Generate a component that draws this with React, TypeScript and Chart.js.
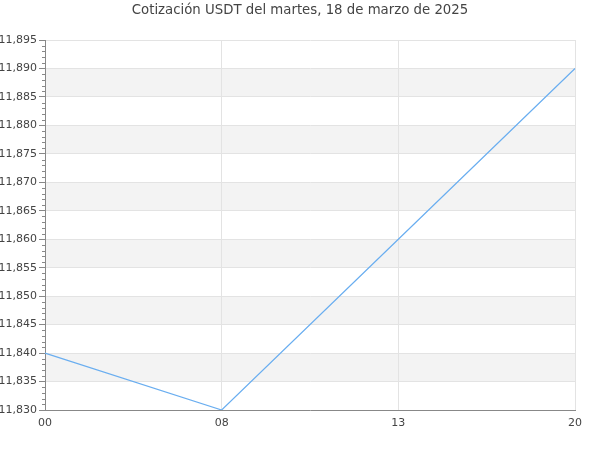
import React, { useEffect, useRef } from "react";
import { Chart, registerables } from "chart.js";

Chart.register(...registerables);

const TITLE = "Cotización USDT del martes, 18 de marzo de 2025";
const HOURS = ["00", "08", "13", "20"];
const PRICES = [11.84, 11.83, 11.86, 11.89];
const Y_MIN = 11.83;
const Y_MAX = 11.895;
const Y_STEP = 0.005;
const MINOR_STEP = 0.001;

const fmt = (v: number) => v.toFixed(3).replace(".", ",");

const bandsPlugin = {
  id: "bands",
  beforeDraw(chart: any) {
    const { ctx, chartArea } = chart;
    const y = chart.scales.y;
    const n = Math.round((Y_MAX - Y_MIN) / Y_STEP);
    ctx.save();
    ctx.fillStyle = "#f3f3f3";
    for (let i = 1; i < n; i += 2) {
      const a = y.getPixelForValue(Y_MIN + i * Y_STEP);
      const b = y.getPixelForValue(Y_MIN + (i + 1) * Y_STEP);
      ctx.fillRect(chartArea.left, b, chartArea.right - chartArea.left, a - b);
    }
    ctx.restore();
  },
  afterDraw(chart: any) {
    const { ctx, chartArea } = chart;
    const y = chart.scales.y;
    const n = Math.round((Y_MAX - Y_MIN) / MINOR_STEP);
    ctx.save();
    ctx.strokeStyle = "#888";
    ctx.lineWidth = 1;
    ctx.beginPath();
    for (let i = 0; i <= n; i++) {
      if (i % 5 === 0) continue;
      const py = Math.round(y.getPixelForValue(Y_MIN + i * MINOR_STEP)) + 0.5;
      ctx.moveTo(chartArea.left - 3, py);
      ctx.lineTo(chartArea.left, py);
    }
    ctx.stroke();
    ctx.fillStyle = "#444";
    ctx.font = "13.3px 'DejaVu Sans'";
    ctx.textAlign = "center";
    ctx.textBaseline = "middle";
    ctx.fillText(TITLE, chart.width / 2, 11);
    ctx.restore();
  },
};

export default function App() {
  const ref = useRef<HTMLCanvasElement>(null);
  useEffect(() => {
    document.body.style.margin = "0";
    const chart = new Chart(ref.current!, {
      type: "line",
      data: {
        labels: HOURS,
        datasets: [
          {
            data: PRICES,
            borderColor: "#6aaef0",
            borderWidth: 1.2,
            pointRadius: 0,
            tension: 0,
            fill: false,
          },
        ],
      },
      options: {
        responsive: false,
        animation: false,
        layout: { padding: { top: 40, right: 25, left: 0, bottom: 0 } },
        plugins: { legend: { display: false }, title: { display: false }, tooltip: { enabled: false } },
        scales: {
          x: {
            type: "category",
            offset: false,
            afterFit(s: any) { s.height = 40; },
            grid: { color: "#e3e3e3", drawTicks: false },
            border: { color: "#888" },
            ticks: { color: "#444", padding: 7, font: { family: "'DejaVu Sans'", size: 11 }, maxRotation: 0 },
          },
          y: {
            min: Y_MIN,
            max: Y_MAX,
            afterFit(s: any) { s.width = 45; },
            grid: { color: "#e3e3e3", tickColor: "#888", tickLength: 6 },
            border: { color: "#888" },
            ticks: {
              stepSize: Y_STEP,
              color: "#444",
              padding: 2,
              font: { family: "'DejaVu Sans'", size: 11 },
              callback: (v: any) => fmt(Number(v)),
            },
          },
        },
      },
      plugins: [bandsPlugin],
    });
    return () => chart.destroy();
  }, []);
  return <canvas ref={ref} width={600} height={450} />;
}
